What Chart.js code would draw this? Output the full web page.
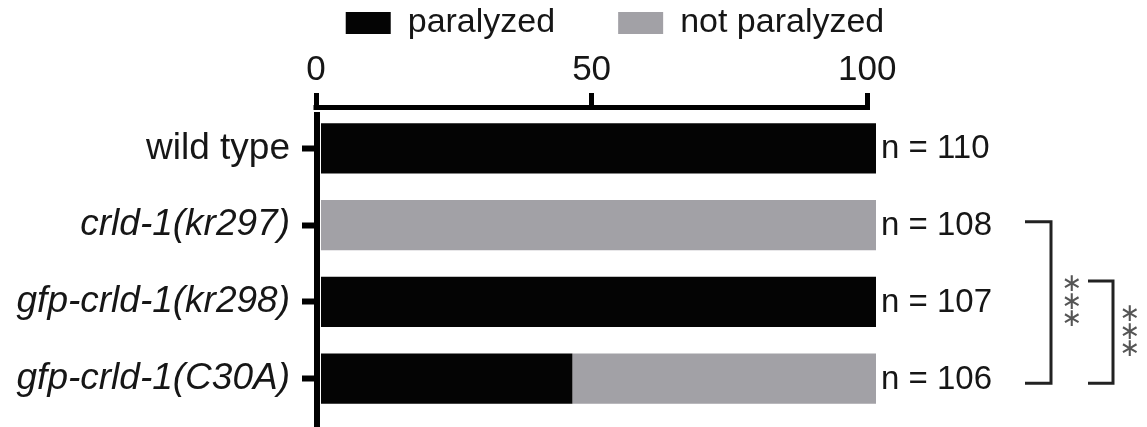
<!DOCTYPE html>
<html>
<head>
<meta charset="utf-8">
<script src="https://cdn.jsdelivr.net/npm/chart.js@4/dist/chart.umd.min.js"></script>
<style>
  html, body { margin: 0; padding: 0; background: #ffffff; }
  #wrap { position: relative; width: 1147px; height: 427px; }
</style>
</head>
<body>
<div id="wrap"><canvas id="chart" width="1147" height="427"></canvas></div>
<script>
// Strains tested
const strains = ['wild type', 'crld-1(kr297)', 'gfp-crld-1(kr298)', 'gfp-crld-1(C30A)'];
// Percent of animals paralyzed / not paralyzed per strain
const paralyzed = [100, 0, 100, 45.3];
const notParalyzed = [0, 100, 0, 54.7];
// Number of animals scored per strain
const animalCounts = [110, 108, 107, 106];
// Top axis tick values
const axisTicks = [0, 50, 100];
// Statistical comparisons (indices into strains)
const comparisons = [
  { from: 1, to: 3, label: '***' },
  { from: 2, to: 3, label: '***' }
];

// Bracket drawing style, one per comparison
const bracketStyle = [
  { x0: 149, x1: 175, topShift: -3.5, bottomShift: 4.5, starX: 196 },
  { x0: 212, x1: 237, topShift: -21, bottomShift: 4.5, starX: 254 }
];

const FONT = '"Liberation Sans", Arial, Helvetica, sans-serif';
const TEXT = '#161616';
const PLOT_TOP = 110;      // top edge of the plotting area
const PLOT_LEFT = 316;     // left edge of the plotting area
const RIGHT_GUTTER = 271;  // room for the n labels and brackets
const PAD_LEFT = 83;       // shifts the centred legend to the right
const LEGEND_GAP = 63;     // spacing between legend entries
const LAYOUT_TOP = 6 - LEGEND_GAP;

// Let the category labels use the full width to the left of the axis
const labelRoom = {
  id: 'labelRoom',
  afterLayout(chart) {
    const ys = chart.scales.y;
    ys.left = 0;
    ys.width = ys.right;
  }
};

const annotate = {
  id: 'annotate',
  afterDatasetsDraw(chart) {
    const ctx = chart.ctx;
    const xb = chart.scales.x;
    const xa = chart.scales.x2;
    const y = chart.scales.y;
    const area = chart.chartArea;
    ctx.save();

    // top axis line between 0 and 100
    const p0 = xa.getPixelForValue(0);
    const p100 = xa.getPixelForValue(100);
    ctx.fillStyle = '#000';
    ctx.fillRect(p0 - 2.5, area.top - 5, p100 - p0 + 5, 5);
    // category axis line, running to the bottom edge
    ctx.fillRect(p0 - 2, area.top + 2, 6, chart.height - area.top - 2);

    // n labels at the end of each bar
    ctx.font = '33px ' + FONT;
    ctx.fillStyle = TEXT;
    ctx.textAlign = 'left';
    ctx.textBaseline = 'middle';
    strains.forEach((s, i) => {
      const total = paralyzed[i] + notParalyzed[i];
      ctx.fillText('n = ' + animalCounts[i], xb.getPixelForValue(total) + 5, y.getPixelForValue(i) + 1);
    });

    // significance brackets
    comparisons.forEach((c, k) => {
      const st = bracketStyle[k];
      const yTop = y.getPixelForValue(c.from) + st.topShift;
      const yBot = y.getPixelForValue(c.to) + st.bottomShift;
      const xL = area.right + st.x0;
      const xR = area.right + st.x1;
      ctx.strokeStyle = '#222';
      ctx.lineWidth = 3;
      ctx.lineJoin = 'miter';
      ctx.beginPath();
      ctx.moveTo(xL, yTop);
      ctx.lineTo(xR, yTop);
      ctx.lineTo(xR, yBot);
      ctx.lineTo(xL, yBot);
      ctx.stroke();

      const stars = c.label.split('');
      const mid = (yTop + yBot) / 2;
      const step = 17.5;
      ctx.fillStyle = '#555';
      ctx.font = '25px "DejaVu Sans", sans-serif';
      ctx.textAlign = 'center';
      ctx.textBaseline = 'middle';
      stars.forEach((s, j) => {
        ctx.fillText('\u2217', area.right + st.starX, mid + (j - (stars.length - 1) / 2) * step);
      });
    });
    ctx.restore();
  }
};

new Chart(document.getElementById('chart'), {
  type: 'bar',
  data: {
    labels: strains,
    datasets: [
      { label: 'paralyzed', data: paralyzed, backgroundColor: '#040404', xAxisID: 'x', yAxisID: 'y' },
      { label: 'not paralyzed', data: notParalyzed, backgroundColor: '#a2a1a6', xAxisID: 'x', yAxisID: 'y' }
    ]
  },
  options: {
    indexAxis: 'y',
    responsive: false,
    animation: false,
    events: [],
    layout: { padding: { top: LAYOUT_TOP, left: PAD_LEFT, right: 0, bottom: 10 } },
    datasets: { bar: { barPercentage: 0.652, categoryPercentage: 1, borderWidth: 0 } },
    plugins: {
      tooltip: { enabled: false },
      legend: {
        position: 'top',
        align: 'center',
        labels: {
          font: { family: FONT, size: 34 },
          color: TEXT,
          boxWidth: 45,
          boxHeight: 22,
          padding: LEGEND_GAP
        }
      }
    },
    scales: {
      y: {
        type: 'category',
        position: 'left',
        stacked: true,
        offset: true,
        border: { display: false },
        grid: { display: true, offset: false, drawOnChartArea: false, drawTicks: true, tickLength: 14, tickWidth: 6, tickColor: '#000' },
        ticks: {
          padding: 12,
          color: TEXT,
          font: (c) => ({ family: FONT, size: 37, style: c.index === 0 ? 'normal' : 'italic' })
        },
        afterFit: (s) => {
          s.width = PLOT_LEFT - PAD_LEFT;
          s.paddingTop = 0;
          s.paddingBottom = 0;
        }
      },
      yR: {
        type: 'linear',
        position: 'right',
        display: true,
        border: { display: false },
        grid: { display: false },
        ticks: { display: false },
        afterFit: (s) => { s.width = RIGHT_GUTTER; s.paddingTop = 0; s.paddingBottom = 0; }
      },
      x: {
        type: 'linear',
        display: false,
        stacked: true,
        min: -0.9,
        max: 100
      },
      x2: {
        type: 'linear',
        position: 'top',
        min: 0,
        max: 101.6,
        border: { display: false },
        grid: { display: true, drawOnChartArea: false, drawTicks: true, tickLength: 17, tickWidth: 5, tickColor: '#000' },
        ticks: { padding: 2, color: TEXT, font: { family: FONT, size: 35 }, maxRotation: 0 },
        afterBuildTicks: (s) => { s.ticks = axisTicks.map(v => ({ value: v })); },
        afterFit: (s) => {
          const lg = s.chart.legend;
          const lh = lg ? lg.height : 0;
          s.height = Math.max(PLOT_TOP - LAYOUT_TOP - lh, 0);
        }
      }
    }
  },
  plugins: [labelRoom, annotate]
});
</script>
</body>
</html>
